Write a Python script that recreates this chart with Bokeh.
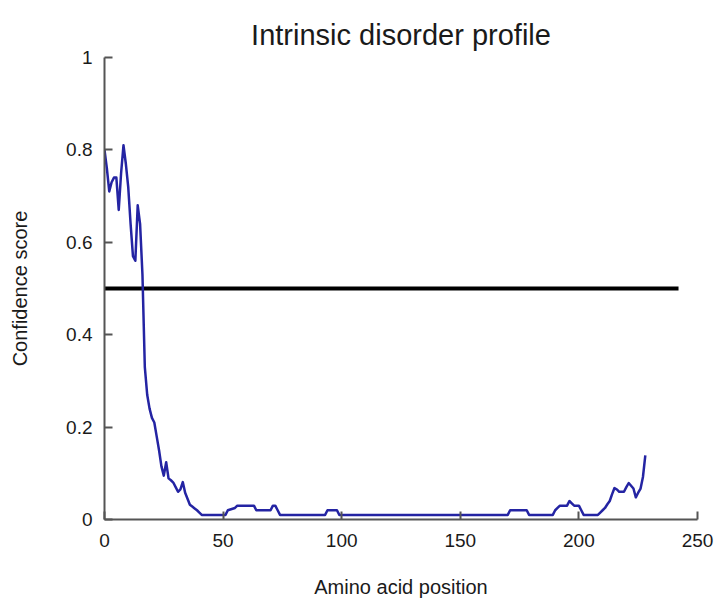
from bokeh.plotting import figure
from bokeh.models import FixedTicker, CustomJSTickFormatter, Range1d
from bokeh.embed import file_html
from bokeh.resources import INLINE

title_text = "Intrinsic disorder profile"
x_label = "Amino acid position"
y_label = "Confidence score"

positions = [0, 1, 2, 3, 4, 5, 6, 7, 8, 9, 10, 11, 12, 13, 14, 15, 16, 17, 18, 19,
             20, 21, 22, 23, 24, 25, 26, 27, 28, 29, 30, 31, 32, 33, 34, 35, 36, 37,
             38, 39, 40, 41, 51, 52, 55, 56, 63, 64, 70, 71, 72, 73, 74,
             93, 94, 98, 99, 170, 171, 178, 179, 189, 190, 191, 192, 195, 196, 197,
             198, 200, 201, 202, 208, 209, 210, 211, 212, 213, 214, 215, 216, 217,
             219, 220, 221, 222, 223, 224, 225, 226, 227, 228]
scores = [0.80, 0.76, 0.71, 0.73, 0.74, 0.74, 0.67, 0.75, 0.81, 0.77, 0.72, 0.64,
          0.57, 0.56, 0.68, 0.64, 0.53, 0.33, 0.27, 0.24, 0.22, 0.21, 0.18, 0.15,
          0.115, 0.095, 0.124, 0.089, 0.085, 0.08, 0.07, 0.06, 0.065, 0.081, 0.058,
          0.045, 0.032, 0.028, 0.024, 0.02, 0.015, 0.01, 0.01, 0.02, 0.025, 0.03,
          0.03, 0.02, 0.02, 0.03, 0.03, 0.02, 0.01,
          0.01, 0.02, 0.02, 0.01, 0.01, 0.02, 0.02, 0.01, 0.01, 0.02, 0.025, 0.03,
          0.03, 0.04, 0.035, 0.03, 0.03, 0.02, 0.01, 0.01, 0.015, 0.02, 0.025,
          0.033, 0.04, 0.055, 0.068, 0.065, 0.06, 0.06, 0.07, 0.079, 0.073, 0.067,
          0.048, 0.058, 0.067, 0.092, 0.139]

threshold_x = [0, 242]
threshold_y = [0.5, 0.5]

x_ticks = [0, 50, 100, 150, 200, 250]
y_ticks = [0, 0.2, 0.4, 0.6, 0.8, 1.0]

FONT = "'Liberation Sans', Arial, Helvetica, sans-serif"
TXT = "#1a1a1a"
AXC = "#555555"

p = figure(width=718, height=600, output_backend="svg", toolbar_location=None,
           x_range=Range1d(0, 250), y_range=Range1d(0, 1),
           min_border_left=104, min_border_right=21, min_border_top=57,
           min_border_bottom=81)
p.outline_line_color = None
p.xgrid.visible = False
p.ygrid.visible = False
p.background_fill_color = "white"
p.border_fill_color = "white"

p.title.text = title_text
p.title.align = "center"
p.title.text_font = FONT
p.title.text_font_size = "29px"
p.title.text_font_style = "normal"
p.title.text_color = TXT
p.title.offset = 4
p.title.standoff = 14

for ax in (p.xaxis[0], p.yaxis[0]):
    ax.axis_line_color = AXC
    ax.axis_line_width = 2
    ax.major_tick_line_color = AXC
    ax.major_tick_line_width = 2
    ax.major_tick_in = 8
    ax.major_tick_out = 0
    ax.minor_tick_line_color = None
    ax.major_label_text_font = FONT
    ax.major_label_text_font_size = "19px"
    ax.major_label_text_color = TXT
    ax.axis_label_text_font = FONT
    ax.axis_label_text_font_size = "20px"
    ax.axis_label_text_font_style = "normal"
    ax.axis_label_text_color = TXT

p.xaxis[0].ticker = FixedTicker(ticks=x_ticks)
p.yaxis[0].ticker = FixedTicker(ticks=y_ticks)
p.yaxis[0].formatter = CustomJSTickFormatter(code="return String(Math.round(tick*10)/10);")
p.xaxis[0].major_label_standoff = 14
p.yaxis[0].major_label_standoff = 12
p.xaxis[0].axis_label = x_label
p.yaxis[0].axis_label = y_label
p.xaxis[0].axis_label_standoff = 26
p.yaxis[0].axis_label_standoff = 32

p.line(threshold_x, threshold_y, line_color="black", line_width=4)
p.line(positions, scores, line_color="#2424a3", line_width=2.5, line_join="round")

open("out.html", "w").write(file_html(p, INLINE))
